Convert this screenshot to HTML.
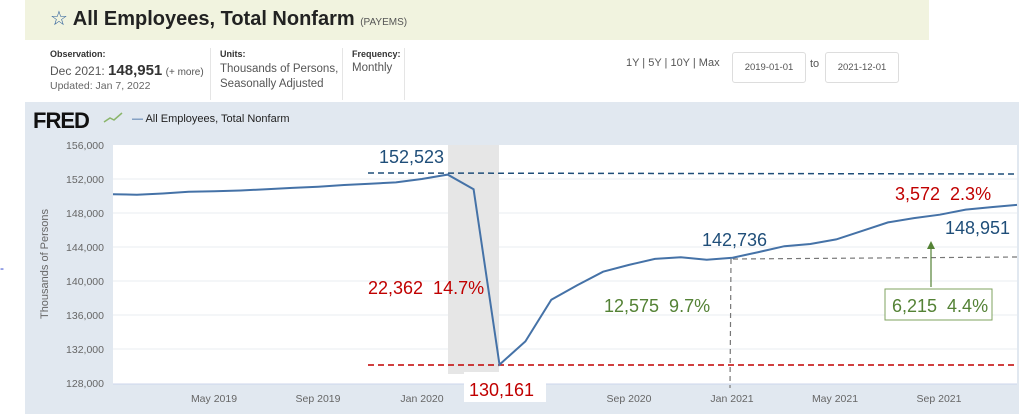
<!DOCTYPE html>
<html><head><meta charset="utf-8"><style>
body{margin:0;width:1024px;height:414px;overflow:hidden;background:#fff;font-family:"Liberation Sans",sans-serif;position:relative}
.a{position:absolute;white-space:nowrap}
</style></head><body>
<div class="a" style="left:25px;top:0;width:904px;height:40px;background:#f1f3df"></div>
<div class="a" style="left:50px;top:6px;font-size:20px;color:#222;font-weight:bold"><span style="color:#2a5c99;font-weight:normal">☆</span> All Employees, Total Nonfarm <span style="font-size:10px;font-weight:normal;color:#555">(PAYEMS)</span></div>
<div class="a" style="left:50px;top:49px;font-size:9px;color:#333;font-weight:bold">Observation:</div>
<div class="a" style="left:50px;top:62px;font-size:12px;color:#555">Dec 2021: <b style="font-size:15px;color:#333">148,951</b> <span style="font-size:10px">(+ more)</span></div>
<div class="a" style="left:50px;top:80px;font-size:10.5px;color:#666">Updated: Jan 7, 2022</div>
<div class="a" style="left:210px;top:48px;width:1px;height:52px;background:#e5e5e5"></div>
<div class="a" style="left:220px;top:49px;font-size:9px;color:#333;font-weight:bold">Units:</div>
<div class="a" style="left:220px;top:62px;font-size:11.5px;color:#555;line-height:15px">Thousands of Persons,<br>Seasonally Adjusted</div>
<div class="a" style="left:342px;top:48px;width:1px;height:52px;background:#e5e5e5"></div>
<div class="a" style="left:352px;top:49px;font-size:9px;color:#333;font-weight:bold">Frequency:</div>
<div class="a" style="left:352px;top:62px;font-size:11.5px;color:#555">Monthly</div>
<div class="a" style="left:404px;top:48px;width:1px;height:52px;background:#e5e5e5"></div>
<div class="a" style="left:626px;top:57px;font-size:11px;color:#555">1Y | 5Y | 10Y | Max</div>
<div class="a" style="left:732px;top:52px;width:72px;height:29px;border:1px solid #ddd;border-radius:3px;font-size:9.5px;color:#555;line-height:29px;text-align:center">2019-01-01</div>
<div class="a" style="left:810px;top:58px;font-size:11px;color:#555">to</div>
<div class="a" style="left:825px;top:52px;width:72px;height:29px;border:1px solid #ddd;border-radius:3px;font-size:9.5px;color:#555;line-height:29px;text-align:center">2021-12-01</div>
<div class="a" style="left:25px;top:102px;width:994px;height:312px;background:#e1e8f0"></div>
<div class="a" style="left:33px;top:108px;font-size:22px;font-weight:bold;color:#111;letter-spacing:-1px">FRED</div>
<div class="a" style="left:132px;top:113px;font-size:11px;color:#222"><span style="color:#2a5c99">—</span> All Employees, Total Nonfarm</div>
<svg class="a" style="left:0;top:0" width="1024" height="414">
<polyline points="104,122 110,118 114,120 122,113" fill="none" stroke="#8ab56a" stroke-width="1.5"/>
<rect x="113" y="145" width="904" height="239" fill="#fff"/>
<g stroke="#e8ecf0" stroke-width="1">
<line x1="113" y1="179" x2="1017" y2="179"/><line x1="113" y1="213" x2="1017" y2="213"/><line x1="113" y1="247" x2="1017" y2="247"/><line x1="113" y1="281" x2="1017" y2="281"/><line x1="113" y1="315" x2="1017" y2="315"/><line x1="113" y1="349" x2="1017" y2="349"/>
</g>
<line x1="113" y1="384" x2="1017" y2="384" stroke="#ccd6eb"/>
<rect x="448" y="145" width="51" height="229" fill="#e6e6e6"/>
<g font-size="10.5" fill="#666" text-anchor="end">
<text x="104" y="149">156,000</text><text x="104" y="183">152,000</text><text x="104" y="217">148,000</text><text x="104" y="251">144,000</text><text x="104" y="285">140,000</text><text x="104" y="319">136,000</text><text x="104" y="353">132,000</text><text x="104" y="387">128,000</text>
</g>
<text transform="translate(48,264) rotate(-90)" font-size="11" fill="#666" text-anchor="middle">Thousands of Persons</text>
<g font-size="10.5" fill="#666" text-anchor="middle">
<text x="214" y="402">May 2019</text><text x="318" y="402">Sep 2019</text><text x="422" y="402">Jan 2020</text><text x="629" y="402">Sep 2020</text><text x="732" y="402">Jan 2021</text><text x="835" y="402">May 2021</text><text x="939" y="402">Sep 2021</text>
</g>
<line x1="368" y1="173" x2="1017" y2="174" stroke="#1f4e79" stroke-width="1.5" stroke-dasharray="6,4"/>
<line x1="368" y1="365" x2="1017" y2="365" stroke="#c00000" stroke-width="1.5" stroke-dasharray="6,4"/>
<polyline points="733,259 1017,257" fill="none" stroke="#777" stroke-width="1.2" stroke-dasharray="5,4"/>
<line x1="731" y1="259" x2="730" y2="388" stroke="#777" stroke-width="1.2" stroke-dasharray="5,4"/>
<polyline fill="none" stroke="#4572a7" stroke-width="2" points="113,194.3 136.9,194.7 162.8,193.5 188.7,191.8 214.6,191.3 240.5,190.5 266.4,189.2 292.3,187.9 318.2,186.7 344.1,185 370,183.7 395.9,182.4 421.8,179 447.7,174.6 473.6,189.2 499.5,364.6 525.4,341.4 551.3,299.7 577.2,285.3 603.1,271.7 629,264.9 654.9,258.9 680.8,257.2 706.7,259.8 732.6,257.7 758.5,252.1 784.4,246.2 810.3,244 836.2,239.4 862.1,230.9 888,222.4 913.9,218.1 939.8,214.7 965.7,209.6 991.6,207.1 1017,204.9"/>
<line x1="931" y1="287" x2="931" y2="248" stroke="#548235" stroke-width="1.2"/>
<polygon points="931,241 927,249 935,249" fill="#548235"/>
<rect x="885" y="289" width="107" height="31" fill="#fff" stroke="#7fa35f" stroke-width="1"/>
<rect x="464" y="372" width="82" height="30" fill="#fff"/>
<g font-size="18">
<text x="379" y="163" fill="#1f4e79">152,523</text>
<text x="368" y="294" fill="#c00000">22,362&#160;&#160;14.7%</text>
<text x="469" y="396" fill="#c00000">130,161</text>
<text x="604" y="312" fill="#548235">12,575&#160;&#160;9.7%</text>
<text x="702" y="246" fill="#1f4e79">142,736</text>
<text x="895" y="200" fill="#c00000">3,572&#160;&#160;2.3%</text>
<text x="945" y="234" fill="#1f4e79">148,951</text>
<text x="892" y="312" fill="#548235">6,215&#160;&#160;4.4%</text>
</g>
<text x="0" y="272" fill="#2a3fcc" font-size="12">-</text>
</svg>
</body></html>
